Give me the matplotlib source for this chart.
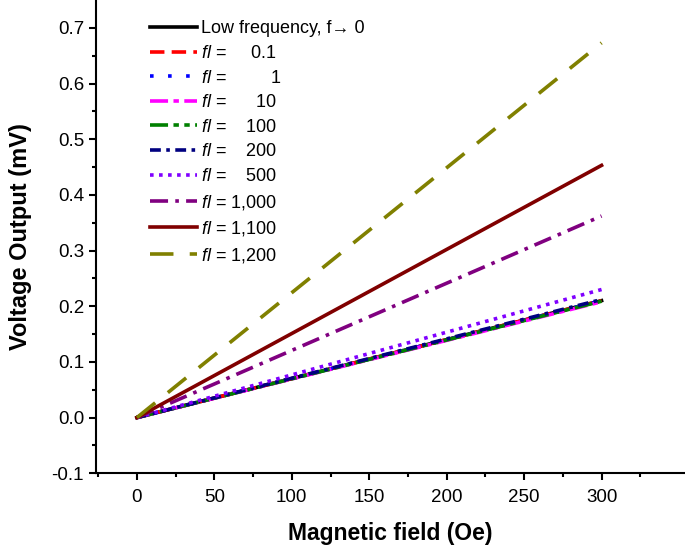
# encoding: utf-8
import matplotlib
matplotlib.use("Agg")
import matplotlib.pyplot as plt

# magnetic field end points (Oe)
field = [0, 300]

labels = [
    "Low frequency, f\u2192 0",
    r"$\mathit{fl}$ =     0.1",
    r"$\mathit{fl}$ =         1",
    r"$\mathit{fl}$ =      10",
    r"$\mathit{fl}$ =    100",
    r"$\mathit{fl}$ =    200",
    r"$\mathit{fl}$ =    500",
    r"$\mathit{fl}$ = 1,000",
    r"$\mathit{fl}$ = 1,100",
    r"$\mathit{fl}$ = 1,200",
]

x_ticks = [0, 50, 100, 150, 200, 250, 300]
x_minor = [-25, 25, 75, 125, 175, 225, 275, 325]
y_ticks = [-0.1, 0.0, 0.1, 0.2, 0.3, 0.4, 0.5, 0.6, 0.7]
y_ticklabels = ["-0.1", "0.0", "0.1", "0.2", "0.3", "0.4", "0.5", "0.6", "0.7"]
y_minor = [-0.05, 0.05, 0.15, 0.25, 0.35, 0.45, 0.55, 0.65]

# voltage output (mV) at 0 and 300 Oe
v_low = [0, 0.210]
v_01 = [0, 0.210]
v_1 = [0, 0.210]
v_10 = [0, 0.208]
v_100 = [0, 0.209]
v_200 = [0, 0.212]
v_500 = [0, 0.230]
v_1000 = [0, 0.362]
v_1100 = [0, 0.453]
v_1200 = [0, 0.673]


def main():
    plt.rcParams["font.family"] = ["Liberation Sans", "DejaVu Sans"]
    plt.rcParams["mathtext.fontset"] = "custom"
    plt.rcParams["mathtext.it"] = "Liberation Sans:italic"
    plt.rcParams["mathtext.rm"] = "Liberation Sans"

    fig = plt.figure(figsize=(6.85, 5.49), dpi=100)
    ax = fig.add_axes([0.140, 0.138, 0.858, 0.862])

    lw = 2.6
    ax.plot(field, v_low, color="black", linestyle="-", linewidth=lw, label=labels[0])
    ax.plot(field, v_01, color="red", linestyle=(0, (4, 2)), linewidth=lw, label=labels[1])
    ax.plot(field, v_1, color="blue", linestyle=(0, (1, 4)), linewidth=lw, label=labels[2])
    ax.plot(field, v_10, color="magenta", linestyle=(0, (5, 1.5, 1.5, 1.5)), linewidth=lw, label=labels[3])
    ax.plot(field, v_100, color="green", linestyle=(0, (5, 1.5, 1.5, 1.5, 1.5, 1.5)), linewidth=lw, label=labels[4])
    ax.plot(field, v_200, color="#000080", linestyle=(0, (3, 1.5, 1, 1.5)), linewidth=lw, label=labels[5])
    ax.plot(field, v_500, color="#8000ff", linestyle=(0, (1, 1.5)), linewidth=lw, label=labels[6])
    ax.plot(field, v_1000, color="#800080", linestyle=(0, (5, 2, 1, 2)), linewidth=lw, label=labels[7])
    ax.plot(field, v_1100, color="#800000", linestyle="-", linewidth=lw, label=labels[8])
    ax.plot(field, v_1200, color="#808000", linestyle=(0, (6.5, 4.5)), linewidth=lw, label=labels[9])

    ax.set_xlim(-26.5, 353)
    ax.set_ylim(-0.1, 0.75)
    ax.set_xticks(x_ticks)
    ax.set_xticks(x_minor, minor=True)
    ax.set_yticks(y_ticks)
    ax.set_yticklabels(y_ticklabels)
    ax.set_yticks(y_minor, minor=True)
    ax.tick_params(which="major", direction="out", length=5, width=1.5, labelsize=13.5)
    ax.tick_params(axis="x", which="major", pad=6)
    ax.tick_params(which="minor", direction="out", length=3, width=1.5)

    ax.spines["right"].set_color("none")
    ax.spines["top"].set_color("none")
    ax.spines["left"].set_linewidth(1.5)
    ax.spines["bottom"].set_linewidth(1.5)

    ax.set_xlabel("Magnetic field (Oe)", fontsize=16.5, fontweight="bold", labelpad=12)
    ax.set_ylabel("Voltage Output (mV)", fontsize=17, fontweight="bold", labelpad=14)

    ax.legend(loc="upper left", bbox_to_anchor=(0.08, 0.972), frameon=False,
              fontsize=13, handlelength=2.6, handletextpad=0.2,
              labelspacing=0.42, borderaxespad=0)

    fig.savefig("out.png", dpi=100)


if __name__ == '__main__':
    main()
